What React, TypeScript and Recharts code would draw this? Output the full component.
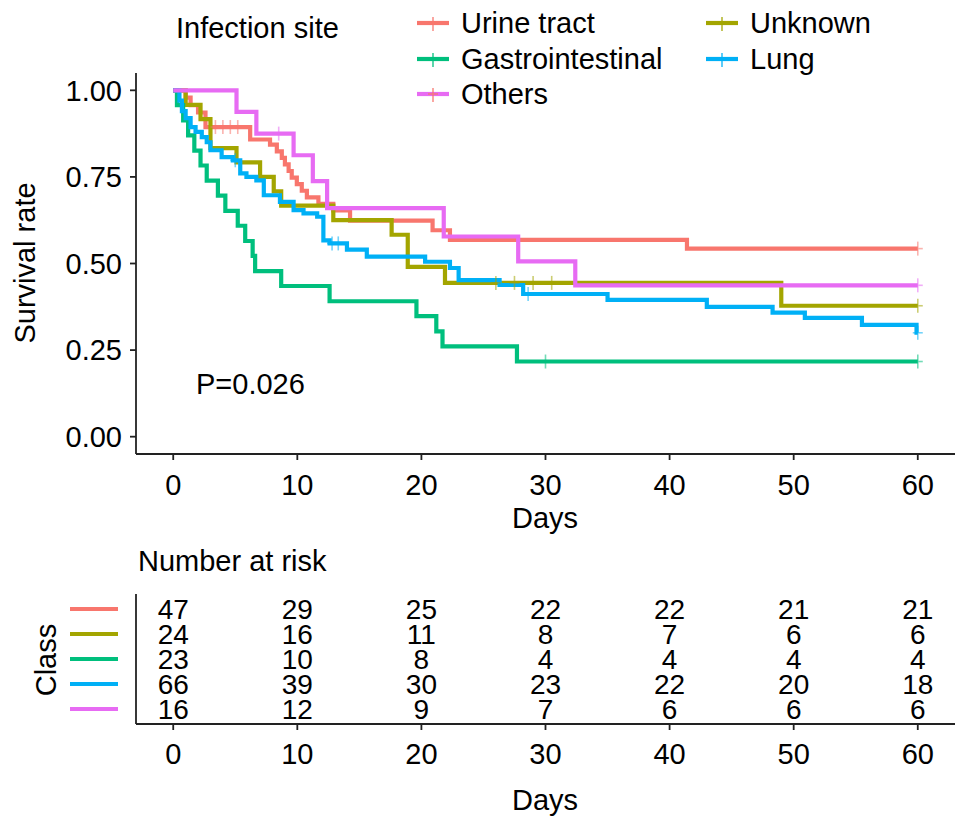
import React from 'react';
import { ComposedChart, Line, Scatter, XAxis, YAxis } from 'recharts';

// ---------- data ----------
const groupNames = ['Urine tract', 'Unknown', 'Gastrointestinal', 'Lung', 'Others'];
const groupColors = ['#F8766D', '#A3A500', '#00BF7D', '#00B0F6', '#E76BF3'];

const urineTimes = [0, 1.0, 1.4, 2.0, 2.6, 6.2, 7.8, 8.35, 8.75, 9.0, 9.3, 9.55, 9.96, 10.36, 10.77, 11.7, 12.9, 14.25, 20.9, 22.3, 41.4, 60];
const urineSurv = [1.0, 0.979, 0.957, 0.936, 0.894, 0.858, 0.843, 0.824, 0.805, 0.786, 0.767, 0.748, 0.729, 0.71, 0.691, 0.672, 0.653, 0.624, 0.596, 0.568, 0.543, 0.543];

const unknownTimes = [0, 1.0, 2.2, 3.0, 5.1, 7.0, 8.1, 8.7, 12.9, 17.6, 18.9, 21.9, 49.0, 60];
const unknownSurv = [1.0, 0.958, 0.917, 0.833, 0.792, 0.75, 0.708, 0.667, 0.625, 0.583, 0.49, 0.444, 0.378, 0.378];

const gastroTimes = [0, 0.3, 0.8, 1.2, 1.7, 2.2, 2.7, 3.6, 4.2, 5.2, 5.8, 6.4, 6.6, 8.7, 12.6, 19.6, 21.2, 21.7, 27.7, 60];
const gastroSurv = [1.0, 0.957, 0.913, 0.87, 0.826, 0.783, 0.739, 0.696, 0.652, 0.609, 0.565, 0.522, 0.478, 0.435, 0.391, 0.348, 0.304, 0.261, 0.217, 0.217];

const lungTimes = [0, 0.5, 0.7, 1.0, 1.4, 1.8, 2.3, 2.7, 3.0, 3.9, 4.8, 5.4, 5.9, 6.7, 7.3, 8.6, 9.7, 10.5, 11.6, 12.1, 12.6, 14.0, 15.6, 20.3, 22.3, 23.0, 26.3, 28.2, 35.0, 43.0, 48.3, 50.9, 55.5, 59.9, 60];
const lungSurv = [1.0, 0.97, 0.94, 0.92, 0.894, 0.88, 0.865, 0.85, 0.827, 0.807, 0.798, 0.76, 0.75, 0.74, 0.697, 0.678, 0.654, 0.645, 0.635, 0.567, 0.558, 0.54, 0.52, 0.505, 0.487, 0.452, 0.438, 0.412, 0.395, 0.375, 0.358, 0.343, 0.323, 0.3, 0.3];

const othersTimes = [0, 5.1, 6.7, 9.7, 11.25, 12.4, 21.8, 27.8, 32.4, 60];
const othersSurv = [1.0, 0.9375, 0.875, 0.8125, 0.738, 0.66, 0.578, 0.506, 0.437, 0.437];

// censoring times
const urineCensor = [3.4, 4.0, 4.6, 5.2, 60];
const unknownCensor = [26.0, 27.5, 29.0, 30.5, 60];
const gastroCensor = [30.0, 60];
const lungCensor = [5.0, 12.8, 13.3, 28.6, 60];
const othersCensor = [8.5, 60];

// number at risk table
const riskTimes = [0, 10, 20, 30, 40, 50, 60];
const riskUrine = [47, 29, 25, 22, 22, 21, 21];
const riskUnknown = [24, 16, 11, 8, 7, 6, 6];
const riskGastro = [23, 10, 8, 4, 4, 4, 4];
const riskLung = [66, 39, 30, 23, 22, 20, 18];
const riskOthers = [16, 12, 9, 7, 6, 6, 6];

const xTicks = [0, 10, 20, 30, 40, 50, 60];
const yTicks = [0, 0.25, 0.5, 0.75, 1];

// ---------- derived ----------
const curveTimes = [urineTimes, unknownTimes, gastroTimes, lungTimes, othersTimes];
const curveSurv = [urineSurv, unknownSurv, gastroSurv, lungSurv, othersSurv];
const censorTimes = [urineCensor, unknownCensor, gastroCensor, lungCensor, othersCensor];
const riskCounts = [riskUrine, riskUnknown, riskGastro, riskLung, riskOthers];

const curves = curveTimes.map((ts, i) => ts.map((t, j) => ({ t, s: curveSurv[i][j] })));
const stepAt = (ts: number[], ss: number[], t: number) => {
  let v = ss[0];
  for (let k = 0; k < ts.length; k++) if (ts[k] <= t) v = ss[k];
  return v;
};
const censors = censorTimes.map((cs, i) => cs.map((t) => ({ t, s: stepAt(curveTimes[i], curveSurv[i], t) })));
const riskRows = riskCounts.map((row, i) => row.map((n, j) => ({ t: riskTimes[j], row: i + 1, n })));

const FONT = '"Liberation Sans", Arial, Helvetica, sans-serif';
const FS = 29;
const AX = '#222';

const CensorMark = (color: string) => (p: any) => {
  const { cx, cy } = p;
  if (cx == null || cy == null) return <g />;
  return (
    <g stroke={color} strokeWidth={1.6} opacity={0.55}>
      <line x1={cx} x2={cx} y1={cy - 7} y2={cy + 7} />
      <line x1={cx - 5} x2={cx + 5} y1={cy} y2={cy} />
    </g>
  );
};

const RiskText = (p: any) => {
  const { cx, cy, payload } = p;
  return (
    <text x={cx} y={cy} textAnchor="middle" dominantBaseline="central" fontSize={28} fill="#000" fontFamily={FONT}>
      {payload.n}
    </text>
  );
};

const RowTick = (p: any) => {
  const { x, y, payload } = p;
  const c = groupColors[payload.value - 1];
  return <line x1={x - 48} x2={x} y1={y} y2={y} stroke={c} strokeWidth={4} />;
};

const tickStyle = { fontSize: FS, fill: '#000', fontFamily: FONT };

export default function App() {
  return (
    <div style={{ position: 'absolute', left: 0, top: 0, width: 969, height: 830, background: '#fff', fontFamily: FONT }}>
      <div style={{ position: 'absolute', left: 0, top: 0 }}>
        <ComposedChart width={969} height={530} margin={{ top: 73, right: 14, bottom: 16, left: 0 }}>
          <XAxis
            type="number"
            dataKey="t"
            domain={[-3, 63]}
            ticks={xTicks}
            allowDuplicatedCategory={false}
            height={60}
            tickSize={6}
            tickMargin={14}
            tick={tickStyle}
            stroke={AX}
            axisLine={{ stroke: AX, strokeWidth: 1.8 }}
            tickLine={{ stroke: AX, strokeWidth: 1.8 }}
          />
          <YAxis
            type="number"
            dataKey="s"
            domain={[-0.05, 1.05]}
            ticks={yTicks}
            width={136}
            tickSize={6}
            tickMargin={8}
            tick={tickStyle}
            tickFormatter={(v: number) => v.toFixed(2)}
            axisLine={{ stroke: AX, strokeWidth: 1.8 }}
            tickLine={{ stroke: AX, strokeWidth: 1.8 }}
          />
          {curves.map((d, i) => (
            <Line
              key={groupNames[i]}
              data={d}
              dataKey="s"
              type="stepAfter"
              stroke={groupColors[i]}
              strokeWidth={4.2}
              dot={false}
              activeDot={false}
              isAnimationActive={false}
            />
          ))}
          {censors.map((d, i) => (
            <Scatter
              key={'c' + groupNames[i]}
              data={d}
              dataKey="s"
              shape={CensorMark(groupColors[i])}
              isAnimationActive={false}
            />
          ))}
        </ComposedChart>
      </div>
      <div style={{ position: 'absolute', left: 0, top: 530 }}>
        <ComposedChart width={969} height={300} margin={{ top: 64, right: 14, bottom: 46, left: 0 }}>
          <XAxis
            type="number"
            dataKey="t"
            domain={[-3, 63]}
            ticks={xTicks}
            allowDuplicatedCategory={false}
            height={60}
            tickSize={6}
            tickMargin={13}
            tick={tickStyle}
            axisLine={{ stroke: AX, strokeWidth: 1.8 }}
            tickLine={{ stroke: AX, strokeWidth: 1.8 }}
          />
          <YAxis
            type="number"
            dataKey="row"
            domain={[0.4, 5.6]}
            reversed
            ticks={[1, 2, 3, 4, 5]}
            width={136}
            tickSize={0}
            tickMargin={18}
            tick={RowTick}
            tickLine={false}
            axisLine={{ stroke: AX, strokeWidth: 1.8 }}
          />
          {riskRows.map((d, i) => (
            <Scatter key={'r' + groupNames[i]} data={d} dataKey="row" shape={RiskText} isAnimationActive={false} />
          ))}
        </ComposedChart>
      </div>
      <svg width={969} height={830} style={{ position: 'absolute', left: 0, top: 0, pointerEvents: 'none' }} fontFamily={FONT}>
        {/* axis titles */}
        <text x={25} y={263} fontSize={FS} fill="#000" textAnchor="middle" dominantBaseline="central" transform="rotate(-90 25 263)">
          Survival rate
        </text>
        <text x={545} y={518} fontSize={FS} fill="#000" textAnchor="middle" dominantBaseline="central">
          Days
        </text>
        <text x={196} y={384} fontSize={FS} fill="#000" dominantBaseline="central">
          P=0.026
        </text>
        {/* legend */}
        <text x={176} y={28} fontSize={FS} fill="#000" dominantBaseline="central">
          Infection site
        </text>
        {[
          { g: 0, x: 417, y: 23 },
          { g: 2, x: 417, y: 59 },
          { g: 4, x: 417, y: 94 },
          { g: 1, x: 706, y: 23 },
          { g: 3, x: 706, y: 59 },
        ].map(({ g, x, y }) => (
          <g key={'lg' + g}>
            <line x1={x} x2={x + 32} y1={y} y2={y} stroke={groupColors[g]} strokeWidth={4.2} />
            <g stroke={g === 4 ? '#F8766D' : groupColors[g]} strokeWidth={1.6} opacity={0.8}>
              <line x1={x + 16} x2={x + 16} y1={y - 6} y2={y + 8} />
              <line x1={x + 11} x2={x + 21} y1={y} y2={y} />
            </g>
            <text x={x + 44} y={y} fontSize={FS} fill="#000" dominantBaseline="central">
              {groupNames[g]}
            </text>
          </g>
        ))}
        {/* risk table titles */}
        <text x={138} y={561} fontSize={FS} fill="#000" dominantBaseline="central">
          Number at risk
        </text>
        <text x={46} y={660} fontSize={FS} fill="#000" textAnchor="middle" dominantBaseline="central" transform="rotate(-90 46 660)">
          Class
        </text>
        <text x={545} y={800} fontSize={FS} fill="#000" textAnchor="middle" dominantBaseline="central">
          Days
        </text>
      </svg>
    </div>
  );
}
